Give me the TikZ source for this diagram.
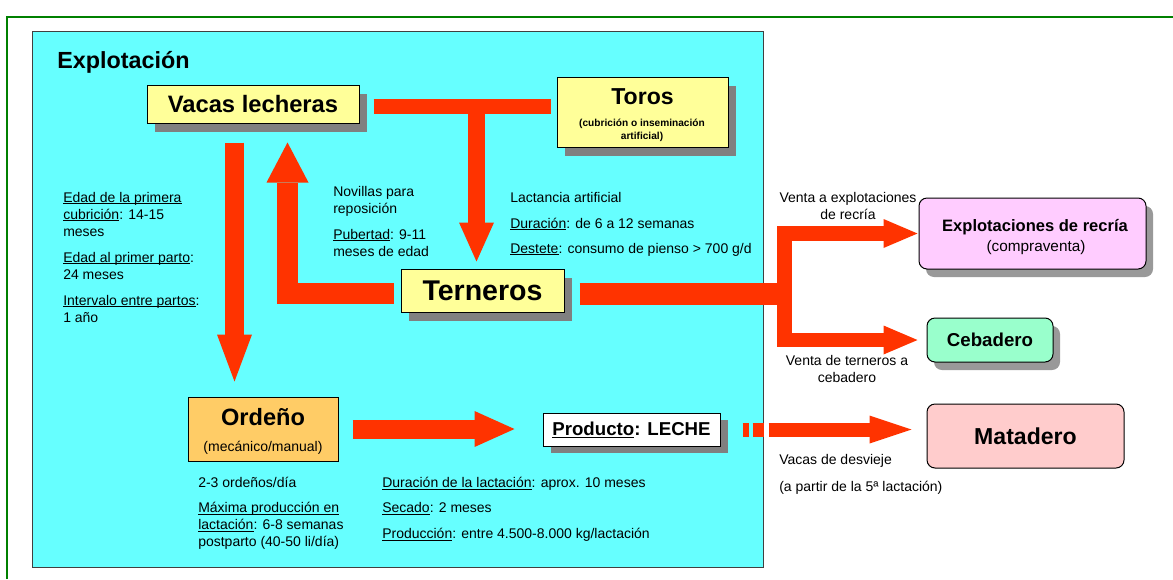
\documentclass[tikz,border=0pt]{standalone}
\usepackage{fontspec}
\setmainfont{Liberation Sans}
\usepackage{xcolor}
\usepackage{tikz}
\usetikzlibrary{arrows.meta}
\usetikzlibrary{shadows}
\usetikzlibrary{calc}
\definecolor{celeste}{HTML}{66FFFF}
\definecolor{amarillo}{HTML}{FFFF99}
\definecolor{rojo}{HTML}{FF3300}
\definecolor{naranja}{HTML}{FFCC66}
\definecolor{rosa}{HTML}{FFCCFF}
\definecolor{menta}{HTML}{99FFCC}
\definecolor{salmon}{HTML}{FFCCCC}
\definecolor{sombra}{HTML}{808080}
\definecolor{verde}{HTML}{008000}
\newsavebox\subcaja
\newcommand\sub[1]{\sbox\subcaja{#1}\rlap{\rule[-1.5pt]{\wd\subcaja}{0.55pt}}\usebox\subcaja}

\begin{document}
\begin{tikzpicture}[
  x=0.75pt, y=-0.75pt,
  caja/.style={draw=black, line width=0.75pt, inner sep=0pt},
  sombreada/.style={drop shadow={shadow xshift=6pt, shadow yshift=-6.75pt, fill=sombra, opacity=1}},
  suave/.style={drop shadow={shadow xshift=5.25pt, shadow yshift=-6pt, fill=black, opacity=0.4}},
  texto/.style={inner sep=0pt, align=left, font=\fontsize{10.5pt}{12.75pt}\selectfont},
  barra/.style={draw=rojo, line join=miter},
  punta/.style={-{Triangle[#1, line width=0pt]}}]
  \useasboundingbox (0,0) rectangle (1173,579);
  \draw[verde, line width=1.5pt] (7,579) -- (7,17) -- (1173,17);
  \filldraw[fill=celeste, draw=black!75, line width=0.75pt] (32,31) rectangle (763,567);
  \node[anchor=west, inner sep=0pt, font=\bfseries\fontsize{17.5pt}{21pt}\selectfont] (titulo) at (57,62) {Explotación};

  % cajas
  \node[caja, sombreada, fill=amarillo, minimum width=159pt, minimum height=28.5pt,
    font=\bfseries\fontsize{17.8pt}{21pt}\selectfont] (vacas) at (253,104) {Vacas lecheras};
  \node[caja, sombreada, fill=amarillo, minimum width=128.25pt, minimum height=52.5pt] (toros) at (642.5,112) {};
  \node[inner sep=0pt, font=\bfseries\fontsize{17.3pt}{20pt}\selectfont] (torostit) at (642.5,97) {Toros};
  \node[inner sep=0pt, align=center, font=\bfseries\fontsize{7.6pt}{9.75pt}\selectfont] (torossub) at (642,130.5) {(cubrición o inseminación\\artificial)};
  \node[caja, sombreada, fill=amarillo, minimum width=122.25pt, minimum height=32.25pt,
    font=\bfseries\fontsize{21.4pt}{24pt}\selectfont] (terneros) at (482.5,290.5) {Terneros};
  \node[caja, fill=naranja, minimum width=112.5pt, minimum height=48pt] (ordeno) at (263,429) {};
  \node[inner sep=0pt, font=\bfseries\fontsize{17.7pt}{20pt}\selectfont] (ordenotit) at (263,417) {Ordeño};
  \node[inner sep=0pt, font=\fontsize{10.5pt}{12pt}\selectfont] (ordenosub) at (263,448) {(mecánico/manual)};
  \node[caja, drop shadow={shadow xshift=6pt, shadow yshift=-5.25pt, fill=sombra, opacity=1}, fill=white,
    minimum width=132.75pt, minimum height=24.75pt,
    font=\bfseries\fontsize{14pt}{16pt}\selectfont] (producto) at (631.5,429.5) {\sub{Producto}: LECHE};
  \node[caja, suave, rounded corners=6pt, fill=rosa, minimum width=170.25pt, minimum height=53.25pt] (recria) at (1032.5,233.5) {};
  \node[inner sep=0pt, font=\bfseries\fontsize{12.4pt}{14pt}\selectfont] (recriatit) at (1035,227) {Explotaciones de recría};
  \node[inner sep=0pt, font=\fontsize{11.5pt}{13pt}\selectfont] (recriasub) at (1036,248) {(compraventa)};
  \node[caja, suave, rounded corners=6pt, fill=menta, minimum width=94.5pt, minimum height=33pt,
    font=\bfseries\fontsize{14pt}{16pt}\selectfont] (cebadero) at (990,340) {Cebadero};
  \node[caja, rounded corners=6pt, fill=salmon, minimum width=147.75pt, minimum height=48pt,
    font=\bfseries\fontsize{17.3pt}{20pt}\selectfont] (matadero) at (1025.5,436) {Matadero};

  % textos
  \node[texto, anchor=north west] (edad) at (63,191.8) {\sub{Edad de la primera}\\\sub{cubrición}: 14-15\\meses\\[6.75pt]\sub{Edad al primer parto}:\\24 meses\\[6.75pt]\sub{Intervalo entre partos}:\\1 año};
  \node[texto, anchor=north west] (novillas) at (333,185.8) {Novillas para\\reposición\\[6.75pt]\sub{Pubertad}: 9-11\\meses de edad};
  \node[texto, anchor=north west] (lactancia) at (510,191.8) {Lactancia artificial\\[6.75pt]\sub{Duración}: de 6 a 12 semanas\\[6pt]\sub{Destete}: consumo de pienso > 700 g/d};
  \node[texto, align=center] (ventarecria) at (848,205.5) {Venta a explotaciones\\de recría};
  \node[texto, align=center] (ventacebo) at (847,369) {Venta de terneros a\\cebadero};
  \node[texto, anchor=north west] (ordenos) at (198,476.8) {2-3 ordeños/día\\[6pt]\sub{Máxima producción en}\\\sub{lactación}: 6-8 semanas\\postparto (40-50 li/día)};
  \node[texto, anchor=north west] (lactacion) at (382,476.8) {\sub{Duración de la lactación}: aprox. 10 meses\\[6pt]\sub{Secado}: 2 meses\\[6.75pt]\sub{Producción}: entre 4.500-8.000 kg/lactación};
  \node[texto, anchor=north west] (desvieje) at (779,453.8) {Vacas de desvieje\\[7.5pt](a partir de la 5ª lactación)};

  % flechas
  \coordinate (cruce) at (476.5,106.5);
  \coordinate (bajada) at (234.5,0);
  \coordinate (subida) at (287.5,293.5);
  \coordinate (reparto) at (784.5,294);
  \draw[barra, line width=11.25pt] ($(vacas.east |- cruce)+(14,0)$) -- ($(toros.west |- cruce)+(-6,0)$);
  \draw[barra, line width=12.75pt, punta={length=29.25pt, width=26.25pt}, shorten >=5.25pt]
    ($(cruce)+(0,-7.5)$) -- (terneros.north -| cruce);
  \draw[barra, line width=14.25pt, punta={length=35.25pt, width=26.25pt}, shorten <=14.25pt, shorten >=11.25pt]
    (vacas.south -| bajada) -- (ordeno.north -| bajada);
  \draw[barra, line width=15.75pt, punta={length=30pt, width=31.5pt}]
    ($(terneros.west |- subida)+(-7,0)$) -- (subida) -- ($(vacas.south -| subida)+(0,19)$);
  \draw[barra, line width=16.5pt] ($(terneros.east |- reparto)+(15,0)$) -- ($(reparto)+(7.5,0)$);
  \draw[barra, line width=10.9pt, punta={length=25.5pt, width=21.75pt}, shorten >=0.75pt]
    (reparto) -- (reparto |- recria.west) -- (recria.west);
  \draw[barra, line width=10.9pt, punta={length=25.5pt, width=21.75pt}, shorten >=6.75pt]
    (reparto) -- (reparto |- cebadero.west) -- (cebadero.west);
  \draw[barra, line width=14.25pt, punta={length=30pt, width=27pt}, shorten <=10.5pt, shorten >=21pt]
    (ordeno.east) -- (producto.west |- ordeno.east);
  \draw[barra, line width=10.5pt, punta={length=31.5pt, width=21pt}, shorten <=16.5pt, shorten >=11.25pt,
    dash pattern=on 4.5pt off 3pt on 8.25pt off 3.75pt on 300pt]
    (producto.east) -- (matadero.west |- producto.east);
\end{tikzpicture}
\end{document}
